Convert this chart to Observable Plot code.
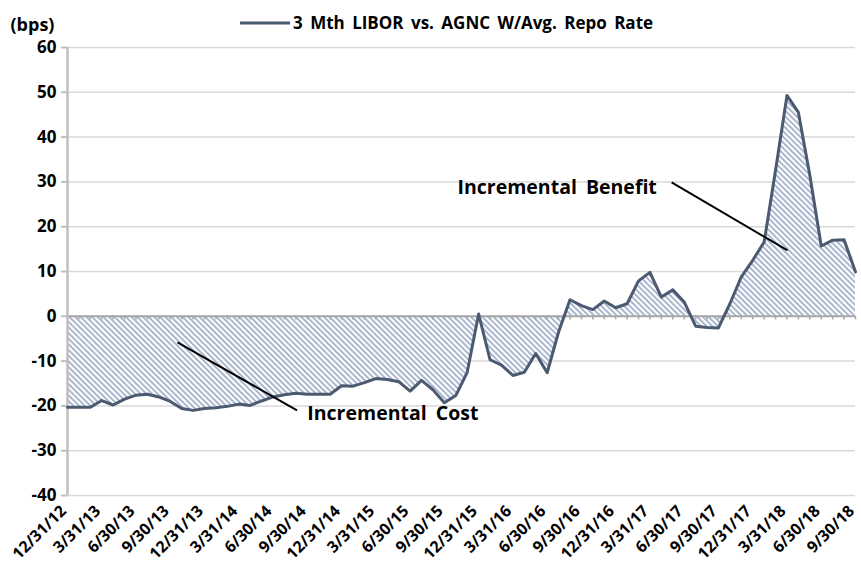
<!DOCTYPE html>
<html><head><meta charset="utf-8">
<script src="https://cdn.jsdelivr.net/npm/d3@7"></script>
<script src="https://cdn.jsdelivr.net/npm/@observablehq/plot@0.6"></script>
<style>body{margin:0;background:#fff;}</style>
</head><body><div id="chart"></div>
<script>
// ---- data ----
const quarterLabels = ["12/31/12","3/31/13","6/30/13","9/30/13","12/31/13","3/31/14","6/30/14","9/30/14",
  "12/31/14","3/31/15","6/30/15","9/30/15","12/31/15","3/31/16","6/30/16","9/30/16",
  "12/31/16","3/31/17","6/30/17","9/30/17","12/31/17","3/31/18","6/30/18","9/30/18"];
// monthly spread (bps), 12/31/12 .. 9/30/18
const spread = [
  -20.3,-20.3,-20.3,-18.8,-19.8,-18.5,-17.6,-17.4,-18.0,-19.0,-20.6,-21.0,
  -20.6,-20.4,-20.1,-19.6,-19.9,-18.9,-18.0,-17.5,-17.2,-17.4,-17.4,-17.4,
  -15.5,-15.6,-14.8,-13.9,-14.1,-14.6,-16.7,-14.3,-16.4,-19.3,-17.7,-12.5,
  0.5,-9.7,-10.9,-13.2,-12.5,-8.3,-12.6,-3.5,3.7,2.4,1.5,3.4,
  1.9,2.8,7.9,9.8,4.3,5.9,3.2,-2.2,-2.5,-2.6,2.8,8.8,
  12.5,16.6,32.6,49.3,45.5,31.5,15.7,17.0,17.1,9.9
];
const yTicks = [-40,-30,-20,-10,0,10,20,30,40,50,60];
const seriesName = "3 Mth LIBOR vs. AGNC W/Avg. Repo Rate";
const unitLabel = "(bps)";
const noteTexts = ["Incremental Benefit", "Incremental Cost"];

// ---- layout / annotation placement ----
const rows = spread.map((v, i) => ({i, v}));
const notes = [
  {text: noteTexts[0], tx: 34.15, ty: 28.6, x1: 52.9, y1: 29.9, x2: 63.05, y2: 14.7},
  {text: noteTexts[1], tx: 21.0, ty: -21.65, x1: 9.63, y1: -5.8, x2: 20.1, y2: -21.0}
];
const font = "'Open Sans', 'DejaVu Sans', sans-serif";
const lineColor = "#4b5a70";

const plot = Plot.plot({
  width: 861, height: 574,
  marginLeft: 67, marginRight: 6, marginTop: 47, marginBottom: 79,
  style: {fontFamily: font, background: "white", overflow: "visible", color: "black"},
  x: {domain: [0, spread.length - 1], axis: null},
  y: {domain: [-40, 60], axis: null},
  marks: [
    Plot.ruleY(yTicks.filter(d => d !== 0), {stroke: "#d9d9d9", strokeWidth: 1.5}),
    Plot.areaY(rows, {x: "i", y: "v", fill: "url(#hatch)"}),
    Plot.ruleY([0], {stroke: "#a6a6a6", strokeWidth: 2}),
    Plot.ruleX(rows, {x: "i", y1: 0, y2: -0.8, stroke: "#a6a6a6", strokeWidth: 1.5}),
    Plot.ruleX([0], {stroke: "#bfbfbf", strokeWidth: 2.5}),
    Plot.axisY({ticks: yTicks, tickSize: 6, tickPadding: 5, stroke: "#bfbfbf", strokeWidth: 2,
      fill: "black", fontSize: 17, fontWeight: "bold", tickFormat: d => d, label: null}),
    Plot.axisX({ticks: quarterLabels.map((_, k) => 3 * k), tickFormat: t => quarterLabels[Math.round(t / 3)],
      tickRotate: -45, tickSize: 0, tickPadding: 13, dx: -4, fontSize: 16, fontWeight: "bold", fill: "black", label: null}),
    Plot.line(rows, {x: "i", y: "v", stroke: lineColor, strokeWidth: 3, strokeLinejoin: "round"}),
    Plot.link(notes, {x1: "x1", y1: "y1", x2: "x2", y2: "y2", stroke: "black", strokeWidth: 2}),
    Plot.text(notes, {x: "tx", y: "ty", text: "text", textAnchor: "start", fontSize: 19.5, fontWeight: "bold", fill: "black"}),
    Plot.text([unitLabel], {frameAnchor: "top-left", dx: -57, dy: -29, textAnchor: "start", fontSize: 18, fontWeight: "bold", fill: "black"})
  ]
});

const svg = d3.select(plot);
svg.selectAll("text").style("word-spacing", "4px");
const defs = svg.insert("defs", ":first-child");
const pat = defs.append("pattern").attr("id", "hatch").attr("patternUnits", "userSpaceOnUse")
  .attr("width", 4).attr("height", 4).attr("patternTransform", "rotate(-45)");
pat.append("rect").attr("width", 4).attr("height", 4).attr("fill", "white");
pat.append("line").attr("x1", 1).attr("y1", 0).attr("x2", 1).attr("y2", 4)
  .attr("stroke", "#7d91b6").attr("stroke-width", 1.3);

const leg = svg.append("g");
leg.append("line").attr("x1", 240).attr("x2", 290).attr("y1", 23).attr("y2", 23)
  .attr("stroke", lineColor).attr("stroke-width", 3);
leg.append("text").attr("x", 293).attr("y", 23).attr("dy", "0.35em").attr("text-anchor", "start")
  .attr("font-family", font).attr("font-size", 17).attr("font-weight", "bold").attr("fill", "black")
  .style("word-spacing", "3px")
  .text(seriesName);

document.getElementById("chart").appendChild(plot);
</script>
</body></html>
